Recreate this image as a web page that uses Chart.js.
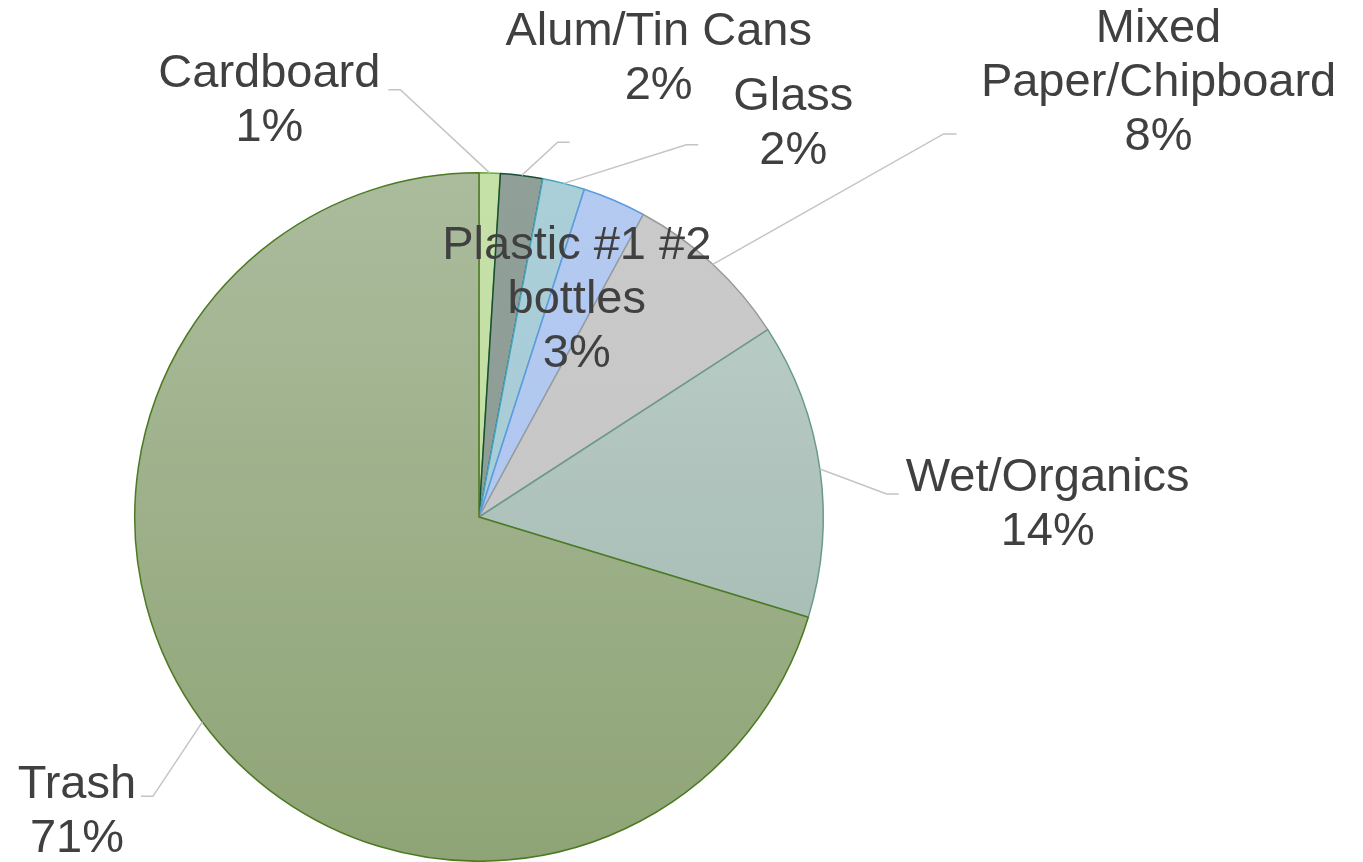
<!DOCTYPE html>
<html lang="en">
<head>
    <meta charset="UTF-8">
    <title>Waste Composition</title>
    <script src="https://cdn.jsdelivr.net/npm/chart.js@4"></script>
    <style>
        body {
            margin: 0;
            padding: 0;
            background: #ffffff;
        }
        .chart-wrapper {
            position: relative;
            width: 1363px;
            height: 862px;
        }
    </style>
</head>
<body>
    <div class="chart-wrapper">
        <canvas id="wasteChart"></canvas>
    </div>

    <script>
        // Categories (wrapped names are arrays of lines)
        const categories = [
            'Cardboard',
            'Alum/Tin Cans',
            'Glass',
            ['Plastic #1 #2', 'bottles'],
            ['Mixed', 'Paper/Chipboard'],
            'Wet/Organics',
            'Trash'
        ];

        // Share of the waste stream, percent
        const sharePercent = [1, 2, 2, 3, 8, 14, 71];

        // Slice fills: top / bottom of a vertical gradient, plus outline
        const fillTop = ['#c6e1a7', '#909f97', '#abcfd9', '#b4caf1', '#cacaca', '#bfd0ca', '#abbc9d'];
        const fillBottom = ['#c2dea2', '#8c9b93', '#a6cad5', '#adc4ec', '#c4c4c4', '#9db5ac', '#8fa476'];
        const outline = ['#6aa83a', '#174f33', '#4aa3c0', '#5d9be0', '#9a9a9a', '#6b9a8c', '#4c7a22'];

        // Label placement, in pie radii from the centre: [x, y]
        const labelPos = [
            [-0.609, -1.209],
            [0.522, -1.330],
            [0.913, -1.142],
            [0.284, -0.629],
            [1.974, -1.261],
            [1.652, -0.035],
            [-1.168, 0.858]
        ];
        // Leader elbow and stub end, in px from label centre (null = no leader)
        const leaderElbow = [[131, -11], [-101, 83], [-107, 21], null, [-215, 51], [-161, -11], [76, -16]];
        const leaderStub = [[119, -11], [-89, 83], [-95, 21], null, [-202, 51], [-149, -11], [64, -16]];

        const FONT_SIZE = 47;
        const LINE_HEIGHT = 54;

        function sliceGradient(context) {
            const chart = context.chart;
            const area = chart.chartArea;
            const i = context.dataIndex;
            if (!area) return fillTop[i];
            const g = chart.ctx.createLinearGradient(0, area.top, 0, area.bottom);
            g.addColorStop(0, fillTop[i]);
            g.addColorStop(1, fillBottom[i]);
            return g;
        }

        // Draws the outside labels with their leader lines
        const pieLabels = {
            id: 'pieLabels',
            afterDatasetsDraw(chart) {
                const ctx = chart.ctx;
                const meta = chart.getDatasetMeta(0);
                const values = chart.data.datasets[0].data;
                ctx.save();
                meta.data.forEach((arc, i) => {
                    const p = arc.getProps(['x', 'y', 'startAngle', 'endAngle', 'outerRadius'], true);
                    const mid = (p.startAngle + p.endAngle) / 2;
                    const ax = p.x + Math.cos(mid) * p.outerRadius;
                    const ay = p.y + Math.sin(mid) * p.outerRadius;
                    const cx = p.x + labelPos[i][0] * p.outerRadius;
                    const cy = p.y + labelPos[i][1] * p.outerRadius;

                    if (leaderElbow[i]) {
                        ctx.beginPath();
                        ctx.strokeStyle = '#c4c4c4';
                        ctx.lineWidth = 1.5;
                        ctx.moveTo(ax, ay);
                        ctx.lineTo(cx + leaderElbow[i][0], cy + leaderElbow[i][1]);
                        ctx.lineTo(cx + leaderStub[i][0], cy + leaderStub[i][1]);
                        ctx.stroke();
                    }

                    const name = chart.data.labels[i];
                    const lines = (Array.isArray(name) ? name : [name]).concat(values[i] + '%');
                    ctx.fillStyle = '#404040';
                    ctx.font = FONT_SIZE + 'px "Liberation Sans", Arial, sans-serif';
                    ctx.textAlign = 'center';
                    ctx.textBaseline = 'middle';
                    const top = cy - (lines.length - 1) * LINE_HEIGHT / 2;
                    lines.forEach((line, k) => {
                        ctx.fillText(line, cx, top + k * LINE_HEIGHT);
                    });
                });
                ctx.restore();
            }
        };

        const wasteCtx = document.getElementById('wasteChart').getContext('2d');
        new Chart(wasteCtx, {
            type: 'pie',
            data: {
                labels: categories,
                datasets: [{
                    data: sharePercent,
                    backgroundColor: sliceGradient,
                    borderColor: outline,
                    borderWidth: 1.5
                }]
            },
            options: {
                responsive: true,
                maintainAspectRatio: false,
                animation: false,
                layout: {
                    padding: { left: 134, right: 539, top: 172, bottom: 0 }
                },
                plugins: {
                    legend: { display: false },
                    tooltip: { enabled: false }
                }
            },
            plugins: [pieLabels]
        });
    </script>
</body>
</html>
